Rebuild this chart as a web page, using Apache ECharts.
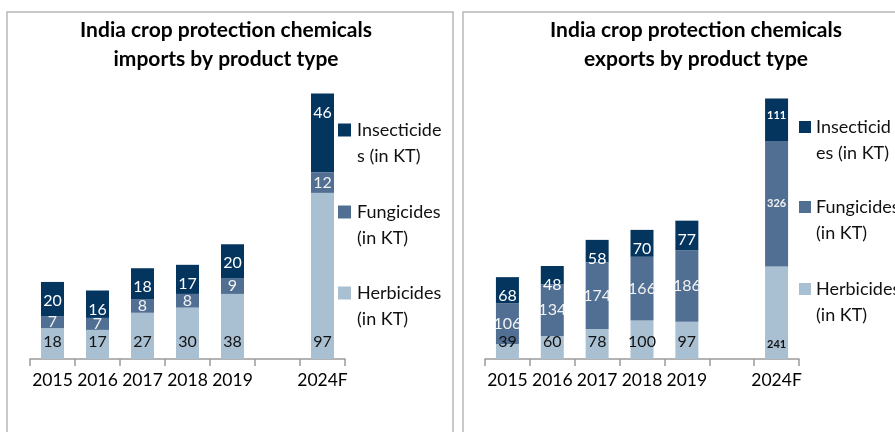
<!DOCTYPE html>
<html>
<head>
<meta charset="utf-8">
<script src="https://cdn.jsdelivr.net/npm/echarts@6/dist/echarts.min.js"></script>
<style>
  html, body { margin: 0; padding: 0; background: #fff; }
  #chart { width: 895px; height: 432px; }
</style>
</head>
<body>
<div id="chart"></div>
<script>
// categories (blank slot between 2019 and 2024F)
const years = ["2015", "2016", "2017", "2018", "2019", "", "2024F"];

// imports, KT
const impHerbicides = [18, 17, 27, 30, 38, "-", 97];
const impFungicides = [7, 7, 8, 8, 9, "-", 12];
const impInsecticides = [20, 16, 18, 17, 20, "-", 46];

// exports, KT
const expHerbicides = [39, 60, 78, 100, 97, "-", 241];
const expFungicides = [106, 134, 174, 166, 186, "-", 326];
const expInsecticides = [68, 48, 58, 70, 77, "-", 111];

const seriesNames = ["Herbicides (in KT)", "Fungicides (in KT)", "Insecticides (in KT)"];
const colors = ["#a9bfd2", "#506f93", "#03355f"];

// legend text, split like the original wraps it (top to bottom)
const legendLeft = [["Insecticide", "s (in KT)"], ["Fungicides", "(in KT)"], ["Herbicides", "(in KT)"]];
const legendRight = [["Insecticid", "es (in KT)"], ["Fungicides", "(in KT)"], ["Herbicides", "(in KT)"]];

const FONT = "Lato, 'Open Sans', sans-serif";

const labelStyles = [
  { position: "insideBottom", distance: 9, color: "#111" },
  { position: "inside", color: "#f2f2f2" },
  { position: "insideTop", distance: 11, color: "#ffffff" },
];

// 2024F labels in the exports chart are drawn smaller
const smallLast = (arr) =>
  arr.map((v, i) =>
    years[i] === "2024F" ? { value: v, label: { fontSize: 11, fontWeight: "bold" } } : v
  );

const makeSeries = (dataList, idx, small) =>
  dataList.map((d, k) => ({
    name: seriesNames[k],
    type: "bar",
    stack: "s" + idx,
    xAxisIndex: idx,
    yAxisIndex: idx,
    barWidth: 23,
    itemStyle: { color: colors[k] },
    label: Object.assign(
      { show: true, fontFamily: FONT, fontSize: 16 },
      labelStyles[k]
    ),
    data: small ? smallLast(d) : d,
  }));

const legendGraphic = (lines, sqX, txtX, rowsY, size) => {
  const out = [];
  // rows go top to bottom: insecticides, fungicides, herbicides
  lines.forEach((pair, r) => {
    out.push({
      type: "rect",
      shape: { x: sqX, y: rowsY[r] - size / 2, width: size, height: size },
      style: { fill: colors[2 - r] },
    });
    out.push({
      type: "text",
      x: txtX,
      // first line centred on the square
      y: rowsY[r] - 13,
      style: {
        text: pair.join("\n"),
        font: "18px " + FONT,
        fill: "#111",
        lineHeight: 26,
        verticalAlign: "top",
      },
    });
  });
  return out;
};

const axisCommon = {
  type: "category",
  data: years,
  axisLine: { lineStyle: { color: "#9a9a9a", width: 1.5 } },
  axisTick: { show: true, length: 7, lineStyle: { color: "#9a9a9a", width: 1.5 } },
  axisLabel: { color: "#000", fontSize: 17.5, fontFamily: FONT, margin: 12, interval: 0 },
};

const titleStyle = { fontFamily: FONT, fontWeight: "bold", fontSize: 21, lineHeight: 29, color: "#000" };

const chart = echarts.init(document.getElementById("chart"));
chart.setOption({
  animation: false,
  title: [
    {
      text: "India crop protection chemicals\nimports by product type",
      left: 226,
      top: 16,
      textAlign: "center",
      padding: 0,
      textStyle: titleStyle,
    },
    {
      text: "India crop protection chemicals\nexports by product type",
      left: 696,
      top: 16,
      textAlign: "center",
      padding: 0,
      textStyle: titleStyle,
    },
  ],
  grid: [
    { left: 30, width: 315, top: 85, bottom: 73 },
    { left: 485, width: 314, top: 90, bottom: 73 },
  ],
  xAxis: [
    Object.assign({ gridIndex: 0 }, axisCommon),
    Object.assign({ gridIndex: 1 }, axisCommon),
  ],
  yAxis: [
    { gridIndex: 0, type: "value", min: 0, max: 160, show: false },
    { gridIndex: 1, type: "value", min: 0, max: 700, show: false },
  ],
  series: [
    ...makeSeries([impHerbicides, impFungicides, impInsecticides], 0, false),
    ...makeSeries([expHerbicides, expFungicides, expInsecticides], 1, true),
  ],
  graphic: [
    {
      type: "rect",
      shape: { x: 7, y: 12, width: 446, height: 440 },
      style: { fill: "none", stroke: "#b8b8b8", lineWidth: 1.5 },
    },
    {
      type: "rect",
      shape: { x: 463, y: 12, width: 450, height: 440 },
      style: { fill: "none", stroke: "#b8b8b8", lineWidth: 1.5 },
    },
    ...legendGraphic(legendLeft, 338, 357, [130, 212, 293], 13),
    ...legendGraphic(legendRight, 799, 816, [127, 207, 289], 12),
  ],
});
</script>
</body>
</html>
